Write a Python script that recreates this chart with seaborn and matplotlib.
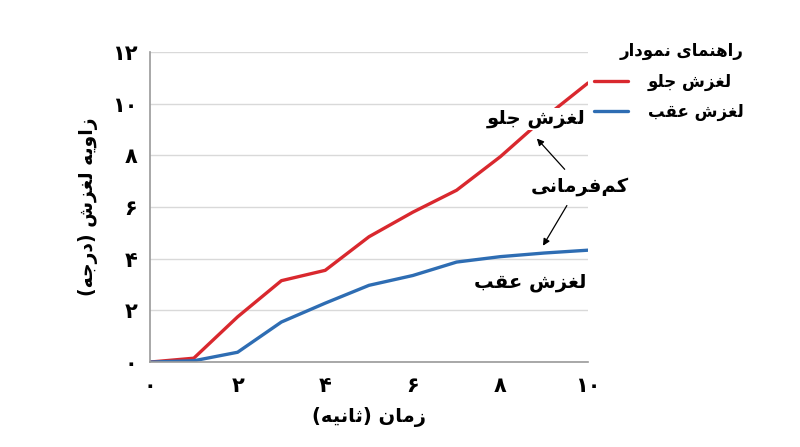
import pandas as pd
import matplotlib
matplotlib.use("Agg")
import matplotlib.pyplot as plt
import seaborn as sns

# --- data ---
time_s = [0, 1, 2, 3, 4, 5, 6, 7, 8, 9, 10]
front_slip = [0.0, 0.15, 1.75, 3.15, 3.55, 4.85, 5.8, 6.65, 7.95, 9.45, 10.8]
rear_slip = [0.0, 0.05, 0.38, 1.55, 2.28, 2.97, 3.35, 3.87, 4.08, 4.22, 4.33]
x_ticks = [0, 2, 4, 6, 8, 10]
y_ticks = [0, 2, 4, 6, 8, 10, 12]

FA_DIGITS = str.maketrans("0123456789", "۰۱۲۳۴۵۶۷۸۹")

# minimal arabic/persian shaping (matplotlib has no text shaping)
FORMS = {
    "ا": ("\uFE8D", "\uFE8E", None, None),
    "ب": ("\uFE8F", "\uFE90", "\uFE91", "\uFE92"),
    "ت": ("\uFE95", "\uFE96", "\uFE97", "\uFE98"),
    "ث": ("\uFE99", "\uFE9A", "\uFE9B", "\uFE9C"),
    "ج": ("\uFE9D", "\uFE9E", "\uFE9F", "\uFEA0"),
    "د": ("\uFEA9", "\uFEAA", None, None),
    "ر": ("\uFEAD", "\uFEAE", None, None),
    "ز": ("\uFEAF", "\uFEB0", None, None),
    "ش": ("\uFEB5", "\uFEB6", "\uFEB7", "\uFEB8"),
    "ع": ("\uFEC9", "\uFECA", "\uFECB", "\uFECC"),
    "غ": ("\uFECD", "\uFECE", "\uFECF", "\uFED0"),
    "ف": ("\uFED1", "\uFED2", "\uFED3", "\uFED4"),
    "ق": ("\uFED5", "\uFED6", "\uFED7", "\uFED8"),
    "ل": ("\uFEDD", "\uFEDE", "\uFEDF", "\uFEE0"),
    "م": ("\uFEE1", "\uFEE2", "\uFEE3", "\uFEE4"),
    "ن": ("\uFEE5", "\uFEE6", "\uFEE7", "\uFEE8"),
    "ه": ("\uFEE9", "\uFEEA", "\uFEEB", "\uFEEC"),
    "و": ("\uFEED", "\uFEEE", None, None),
    "ک": ("\uFB8E", "\uFB8F", "\uFB90", "\uFB91"),
    "ی": ("\uFBFC", "\uFBFD", "\uFBFE", "\uFBFF"),
}
MIRROR = {"(": ")", ")": "("}


def fa(text):
    out = []
    n = len(text)
    for i, ch in enumerate(text):
        if ch not in FORMS:
            out.append(MIRROR.get(ch, ch))
            continue
        prev = text[i - 1] if i > 0 else ""
        nxt = text[i + 1] if i < n - 1 else ""
        j_prev = prev in FORMS and FORMS[prev][2] is not None
        j_next = nxt in FORMS and FORMS[ch][2] is not None
        iso, fin, ini, med = FORMS[ch]
        if j_prev and j_next:
            out.append(med)
        elif j_prev:
            out.append(fin)
        elif j_next:
            out.append(ini)
        else:
            out.append(iso)
    out = [c for c in out if c != "\u200c"]
    return "".join(reversed(out))


sns.set_style("white")
plt.rcParams["font.family"] = ["DejaVu Sans"]
plt.rcParams["font.weight"] = "bold"
plt.rcParams["text.color"] = "black"
plt.rcParams["axes.labelcolor"] = "black"
plt.rcParams["xtick.color"] = "black"
plt.rcParams["ytick.color"] = "black"

label_front = "لغزش جلو"
label_rear = "لغزش عقب"

df = pd.DataFrame({
    "t": time_s * 2,
    "v": front_slip + rear_slip,
    "s": [fa(label_front)] * len(time_s) + [fa(label_rear)] * len(time_s),
})

fig = plt.figure(figsize=(8, 4.47), dpi=100)
ax = fig.add_axes([0.1875, 0.19, 0.5475, 0.6937])

sns.lineplot(data=df, x="t", y="v", hue="s", ax=ax, linewidth=2.4,
             palette=["#d9282e", "#2e6db3"], legend=True)

ax.set_xlim(0, 10)
ax.set_ylim(0, 12)
ax.set_xticks(x_ticks)
ax.set_yticks(y_ticks)
ax.set_xticklabels([str(v).translate(FA_DIGITS) for v in x_ticks], fontsize=15, fontweight="bold")
ax.set_yticklabels([str(v).translate(FA_DIGITS) for v in y_ticks], fontsize=15, fontweight="bold")
ax.tick_params(axis="y", length=0, pad=9)
ax.tick_params(axis="x", length=0, pad=10)
ax.yaxis.grid(True, color="#d9d9d9", linewidth=1)
ax.set_axisbelow(True)
for s in ["top", "right"]:
    ax.spines[s].set_visible(False)
for s in ["left", "bottom"]:
    ax.spines[s].set_color("#9a9a9a")
    ax.spines[s].set_linewidth(1.2)

ax.set_xlabel(fa("زمان (ثانیه)"), fontsize=14, fontweight="bold", labelpad=8)
ax.set_ylabel(fa("زاویه لغزش (درجه)"), fontsize=13.5, fontweight="bold", labelpad=10)

# annotations
ax.text(9.95, 9.42, fa(label_front), ha="right", va="center", fontsize=14, fontweight="bold",
        bbox=dict(facecolor="white", edgecolor="none", pad=1), zorder=5)
ax.text(9.82, 6.78, fa("کم\u200cفرمانی"), ha="center", va="center", fontsize=14,
        fontweight="bold", clip_on=False, zorder=5)
ax.text(9.97, 3.06, fa(label_rear), ha="right", va="center", fontsize=14, fontweight="bold", zorder=5)
arrow = dict(arrowstyle="-|>", color="black", lw=0.9, mutation_scale=10)
ax.annotate("", xy=(8.79, 8.73), xytext=(9.51, 7.38), arrowprops=arrow, annotation_clip=False)
ax.annotate("", xy=(8.94, 4.41), xytext=(9.55, 6.15), arrowprops=arrow, annotation_clip=False)

handles, labels = ax.get_legend_handles_labels()
leg = ax.legend(handles, labels, title=fa("راهنمای نمودار"), loc="upper right",
                bbox_to_anchor=(0.948, 0.94), bbox_transform=fig.transFigure,
                frameon=False, fontsize=12, title_fontproperties={"size": 12, "weight": "bold"},
                alignment="right", handlelength=2.0, handletextpad=1.2, labelspacing=0.75)
leg._legend_title_box._text.set_horizontalalignment("right")
for t in leg.get_texts():
    t.set_fontweight("bold")

fig.savefig("out.png", dpi=100)
